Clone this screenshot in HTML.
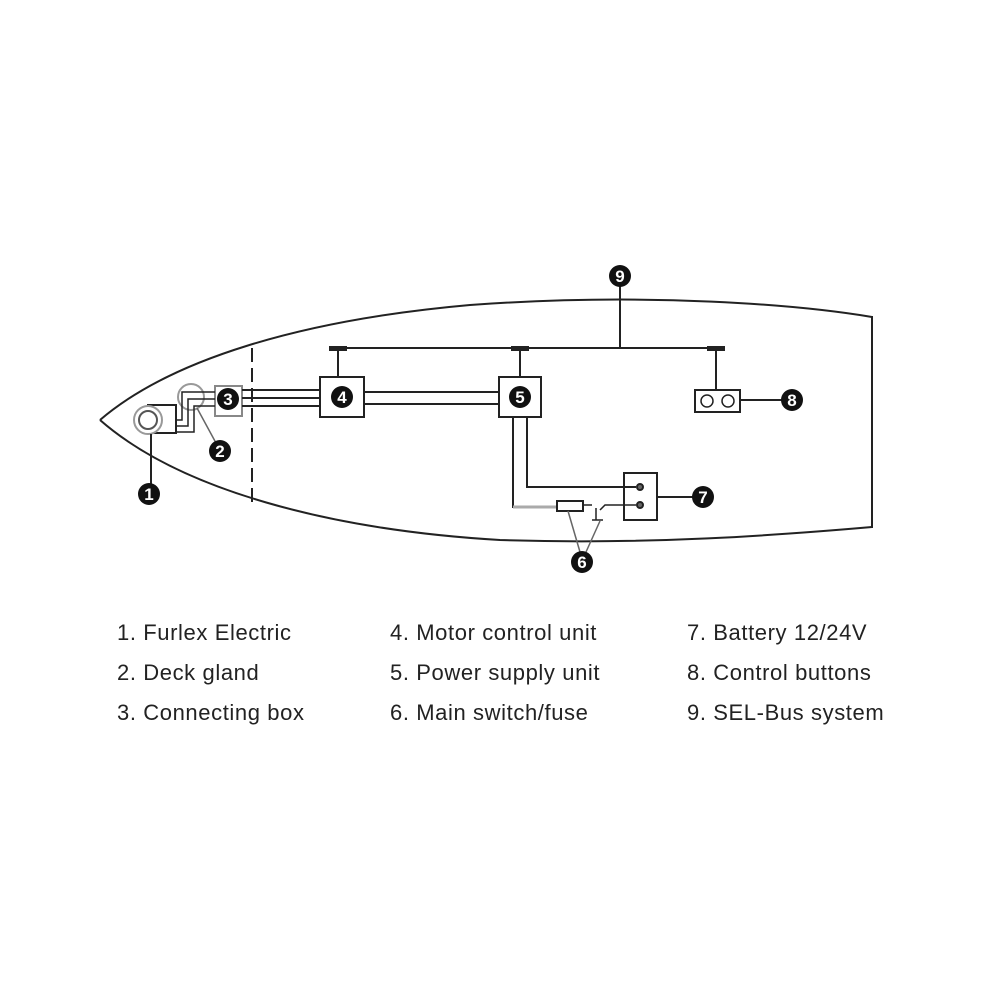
<!DOCTYPE html>
<html><head><style>
body{margin:0;background:#fff;width:1000px;height:1000px;overflow:hidden;font-family:"Liberation Sans",sans-serif}
.l{position:absolute;font-size:22px;color:#222;letter-spacing:0.6px}
</style></head><body>
<svg width="1000" height="1000" style="position:absolute;left:0;top:0">
<g fill="none" stroke="#222" stroke-width="2">
<path d="M100,420 C170,360 300,320 470,305 C650,292 800,305 872,317"/>
<path d="M100,420 C180,490 330,530 500,540 C650,545 780,535 872,527"/>
<line x1="872" y1="316" x2="872" y2="528"/>
<line x1="252" y1="348" x2="252" y2="502" stroke-dasharray="14,6"/>
<line x1="338" y1="348" x2="716" y2="348"/>
<line x1="620" y1="285" x2="620" y2="348"/>
<line x1="338" y1="348" x2="338" y2="377"/>
<line x1="520" y1="348" x2="520" y2="377"/>
<line x1="716" y1="348" x2="716" y2="390"/>
<rect x="320" y="377" width="44" height="40"/>
<rect x="499" y="377" width="42" height="40"/>
<rect x="695" y="390" width="45" height="22"/>
<rect x="624" y="473" width="33" height="47"/>
<rect x="215" y="386" width="27" height="30" stroke="#888"/>
<rect x="148" y="405" width="28" height="28"/>
<circle cx="148" cy="420" r="14" stroke="#999" fill="#fff"/>
<circle cx="148" cy="420" r="9" stroke="#555"/>
<circle cx="191" cy="397" r="13" stroke="#999"/>
<circle cx="707" cy="401" r="6" stroke-width="1.5"/>
<circle cx="728" cy="401" r="6" stroke-width="1.5"/>
<line x1="242" y1="390" x2="320" y2="390"/>
<line x1="242" y1="398" x2="320" y2="398"/>
<line x1="242" y1="406" x2="320" y2="406"/>
<path d="M176,420 L182,420 L182,392 L215,392" stroke-width="1.5"/>
<path d="M176,426 L188,426 L188,399 L215,399" stroke-width="1.5"/>
<path d="M176,432 L194,432 L194,406 L215,406" stroke-width="1.5"/>
<line x1="364" y1="392" x2="499" y2="392"/>
<line x1="364" y1="404" x2="499" y2="404"/>
<path d="M513,417 L513,507 L557,507"/>
<line x1="513" y1="507" x2="557" y2="507" stroke="#aaa" stroke-width="3"/>
<path d="M527,417 L527,487 L636,487"/>
<rect x="557" y="501" width="26" height="10"/>
<path d="M583,505 L592,505 M600,510 L605,505 L636,505" stroke-width="1.5"/>
<path d="M596,508 L596,520 M592,520 L603,520" stroke-width="1.5"/>
<circle cx="640" cy="487" r="3" fill="#666"/>
<circle cx="640" cy="505" r="3" fill="#666"/>
<line x1="657" y1="497" x2="695" y2="497"/>
<line x1="740" y1="400" x2="782" y2="400"/>
<line x1="151" y1="434" x2="151" y2="485"/>
<line x1="197" y1="408" x2="216" y2="443" stroke="#666" stroke-width="1.5"/>
<line x1="568" y1="511" x2="580" y2="552" stroke="#666" stroke-width="1.5"/>
<line x1="600" y1="521" x2="586" y2="552" stroke="#666" stroke-width="1.5"/>
</g>
<g fill="#222">
<rect x="329" y="346" width="18" height="5"/>
<rect x="511" y="346" width="18" height="5"/>
<rect x="707" y="346" width="18" height="5"/>
</g>
<g font-family="Liberation Sans" font-weight="bold" font-size="17" text-anchor="middle" fill="#fff">
<g><circle cx="149" cy="494" r="11" fill="#111"/><text x="149" y="500">1</text></g>
<g><circle cx="220" cy="451" r="11" fill="#111"/><text x="220" y="457">2</text></g>
<g><circle cx="228" cy="399" r="11" fill="#111"/><text x="228" y="405">3</text></g>
<g><circle cx="342" cy="397" r="11" fill="#111"/><text x="342" y="403">4</text></g>
<g><circle cx="520" cy="397" r="11" fill="#111"/><text x="520" y="403">5</text></g>
<g><circle cx="582" cy="562" r="11" fill="#111"/><text x="582" y="568">6</text></g>
<g><circle cx="703" cy="497" r="11" fill="#111"/><text x="703" y="503">7</text></g>
<g><circle cx="792" cy="400" r="11" fill="#111"/><text x="792" y="406">8</text></g>
<g><circle cx="620" cy="276" r="11" fill="#111"/><text x="620" y="282">9</text></g>
</g>
</svg>
<div class="l" style="left:117px;top:620px">1. Furlex Electric</div>
<div class="l" style="left:117px;top:660px">2. Deck gland</div>
<div class="l" style="left:117px;top:700px">3. Connecting box</div>
<div class="l" style="left:390px;top:620px">4. Motor control unit</div>
<div class="l" style="left:390px;top:660px">5. Power supply unit</div>
<div class="l" style="left:390px;top:700px">6. Main switch/fuse</div>
<div class="l" style="left:687px;top:620px">7. Battery 12/24V</div>
<div class="l" style="left:687px;top:660px">8. Control buttons</div>
<div class="l" style="left:687px;top:700px">9. SEL-Bus system</div>
</body></html>
